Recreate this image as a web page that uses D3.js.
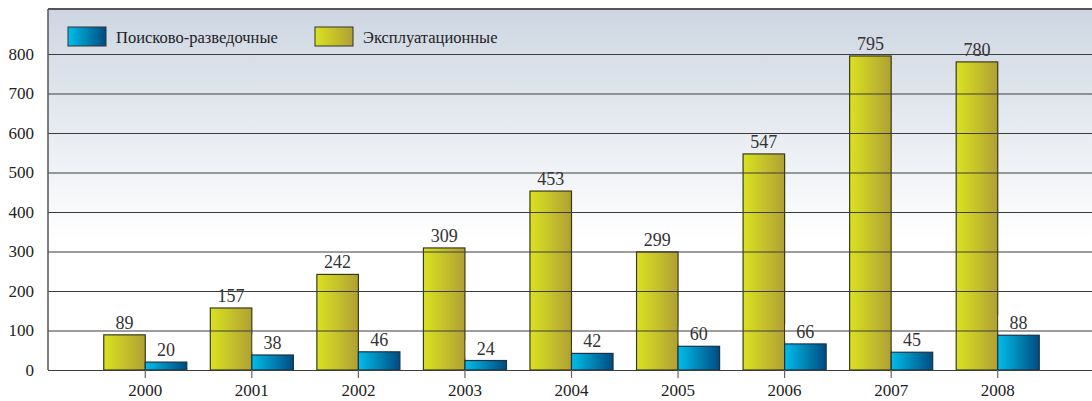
<!DOCTYPE html>
<html>
<head>
<meta charset="utf-8">
<style>
  body { margin: 0; background: #fff; }
  svg { display: block; }
  svg text { font-family: 'Liberation Serif', 'DejaVu Serif', serif; }
  .y .tick text, .x .tick text { font-size: 17px; fill: #222; }
  .value { font-size: 18px; fill: #333; }
  .legend text { font-size: 16.5px; fill: #222; }
</style>
</head>
<body>
<svg width="1092" height="401"></svg>
<script src="https://d3js.org/d3.v7.min.js"></script>
<script>
// data
let years = ["2000", "2001", "2002", "2003", "2004", "2005", "2006", "2007", "2008"]
let exploitation = [89, 157, 242, 309, 453, 299, 547, 795, 780]
let exploration = [20, 38, 46, 24, 42, 60, 66, 45, 88]
let yTicks = [0, 100, 200, 300, 400, 500, 600, 700, 800]
let keys = ["exp", "search"]
let legendNames = ["Поисково-разведочные", "Эксплуатационные"]

let width = 1092, height = 401
let margin = { top: 9, right: 0, bottom: 31, left: 48 }
let serif = "'Liberation Serif', 'DejaVu Serif', serif"

let svg = d3.select("svg")
let defs = svg.append("defs")

// background of plot area: bluish grey at top fading to white
let bg = defs.append("linearGradient").attr("id", "bg")
    .attr("gradientUnits", "userSpaceOnUse")
    .attr("x1", 0).attr("y1", margin.top).attr("x2", 0).attr("y2", 240)
bg.append("stop").attr("offset", "0%").attr("stop-color", "#cdd6e2")
bg.append("stop").attr("offset", "100%").attr("stop-color", "#ffffff")

let yel = defs.append("linearGradient").attr("id", "yel")
yel.append("stop").attr("offset", "0%").attr("stop-color", "#dae220")
yel.append("stop").attr("offset", "100%").attr("stop-color", "#b0a034")

let blu = defs.append("linearGradient").attr("id", "blu")
blu.append("stop").attr("offset", "0%").attr("stop-color", "#00bdea")
blu.append("stop").attr("offset", "100%").attr("stop-color", "#004b80")

let fills = { exp: "url(#yel)", search: "url(#blu)" }
let strokes = { exp: "#3a3a1a", search: "#1b3148" }

let x0 = d3.scaleBand().domain(years).range([92, 1051])
let x1 = d3.scaleBand().domain(keys).range([0, x0.bandwidth()]).paddingOuter(0.283)
let y = d3.scaleLinear().domain([0, 800]).range([370, 54])

let rows = years.map((yr, i) => ({ year: yr, exp: exploitation[i], search: exploration[i] }))

// plot background
svg.append("rect")
    .attr("x", margin.left).attr("y", margin.top)
    .attr("width", width - margin.left).attr("height", y(0) - margin.top)
    .attr("fill", "url(#bg)")

// bars
let groups = svg.append("g").selectAll("g")
    .data(rows)
    .join("g")
    .attr("transform", d => `translate(${x0(d.year)},0)`)

groups.selectAll("rect")
    .data(d => keys.map(k => ({ key: k, value: d[k] })))
    .join("rect")
    .attr("x", d => x1(d.key))
    .attr("y", d => y(d.value))
    .attr("width", x1.bandwidth())
    .attr("height", d => y(0) - y(d.value))
    .attr("fill", d => fills[d.key])
    .attr("stroke", d => strokes[d.key])
    .attr("stroke-width", 1.2)

// gridlines over the bars
let yAxis = svg.append("g")
    .attr("class", "y axis")
    .attr("transform", `translate(${margin.left},0)`)
    .call(d3.axisLeft(y).tickValues(yTicks).tickSize(-(width - margin.left)).tickPadding(14))
    .attr("font-family", serif)
yAxis.select(".domain").remove()
yAxis.selectAll(".tick line").attr("stroke", "#3c3c3c").attr("stroke-width", 1.2)

// frame: top and left
svg.append("line").attr("x1", margin.left).attr("x2", width)
    .attr("y1", margin.top).attr("y2", margin.top)
    .attr("stroke", "#555").attr("stroke-width", 2)
svg.append("line").attr("x1", margin.left).attr("x2", margin.left)
    .attr("y1", margin.top).attr("y2", y(0))
    .attr("stroke", "#555").attr("stroke-width", 1.5)

// x axis ticks
let xAxis = svg.append("g")
    .attr("class", "x axis")
    .attr("transform", `translate(0,${y(0)})`)
    .call(d3.axisBottom(x0).tickSize(8).tickPadding(6))
    .attr("font-family", serif)
xAxis.select(".domain").remove()
xAxis.selectAll(".tick line").attr("stroke", "#666").attr("stroke-width", 1.2)

// value labels with a gap cut out of the gridline
let labels = groups.selectAll("g.lbl")
    .data(d => keys.map(k => ({ key: k, value: d[k] })))
    .join("g")
    .attr("class", "lbl")

labels.append("text")
    .attr("class", "value")
    .attr("x", d => x1(d.key) + x1.bandwidth() / 2)
    .attr("y", d => y(d.value) - 6)
    .attr("text-anchor", "middle")
    .text(d => d.value)

labels.each(function () {
    let g = d3.select(this)
    let bb = g.select("text").node().getBBox()
    g.insert("rect", "text")
        .attr("x", bb.x - 11).attr("y", bb.y + 2)
        .attr("width", bb.width + 22).attr("height", bb.height - 3)
        .attr("fill", "url(#bg)")
})

// legend
let legend = svg.append("g").attr("class", "legend")
let legendX = [68, 315]
let legendKeys = ["search", "exp"]
legendKeys.forEach((k, i) => {
    legend.append("rect")
        .attr("x", legendX[i]).attr("y", 27)
        .attr("width", 38).attr("height", 19)
        .attr("fill", fills[k])
        .attr("stroke", "#333").attr("stroke-width", 1)
    legend.append("text")
        .attr("x", legendX[i] + 48).attr("y", 43)
        .text(legendNames[i])
})
</script>
</body>
</html>
